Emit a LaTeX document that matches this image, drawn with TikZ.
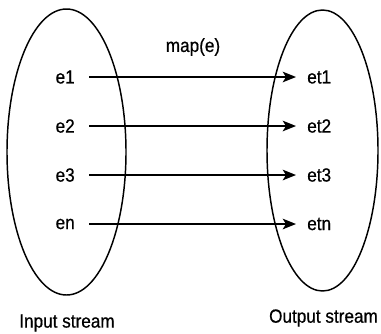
\documentclass[tikz,border=0pt]{standalone}
\usepackage{fontspec}
\setmainfont{Liberation Sans}[FakeStretch=0.9,FakeBold=0.6]
\usepackage{tikz}
\usetikzlibrary{arrows.meta}

\begin{document}
\begin{tikzpicture}[x=0.75pt,y=0.75pt,yscale=-1.0,xscale=1.0]
\tikzset{
  lbl/.style={inner sep=0pt,font=\fontsize{14.3}{17}\selectfont},
  maparrow/.style={-{Stealth[length=10pt,width=8pt,inset=2.5pt]},line width=1.1pt,shorten <=10.5pt,shorten >=8.25pt}
}
\useasboundingbox (0,0) rectangle (381,333);
% streams
\draw [line width=1.1pt] (66.5,152) ellipse [x radius=59.5,y radius=143];
\draw [line width=1.1pt] (322.5,150.5) ellipse [x radius=55.5,y radius=140.5];
% elements
\node (e1) [lbl,anchor=east] at (75,77) {e1};
\node (e2) [lbl,anchor=east] at (75,126) {e2};
\node (e3) [lbl,anchor=east] at (75,175) {e3};
\node (en) [lbl,anchor=east] at (75,224) {en};
\node (et1) [lbl,anchor=west] at (307,77) {et1};
\node (et2) [lbl,anchor=west] at (307,126) {et2};
\node (et3) [lbl,anchor=west] at (307,175) {et3};
\node (etn) [lbl,anchor=west] at (307,224) {etn};
% mapping
\draw [maparrow] (e1.east) -- (et1.west);
\draw [maparrow] (e2.east) -- (et2.west);
\draw [maparrow] (e3.east) -- (et3.west);
\draw [maparrow] (en.east) -- (etn.west);
\node (map) [lbl] at (193,47) {map(e)};
% captions
\node (in) [lbl] at (67,323) {Input stream};
\node (out) [lbl] at (323.5,318) {Output stream};
\end{tikzpicture}
\end{document}
